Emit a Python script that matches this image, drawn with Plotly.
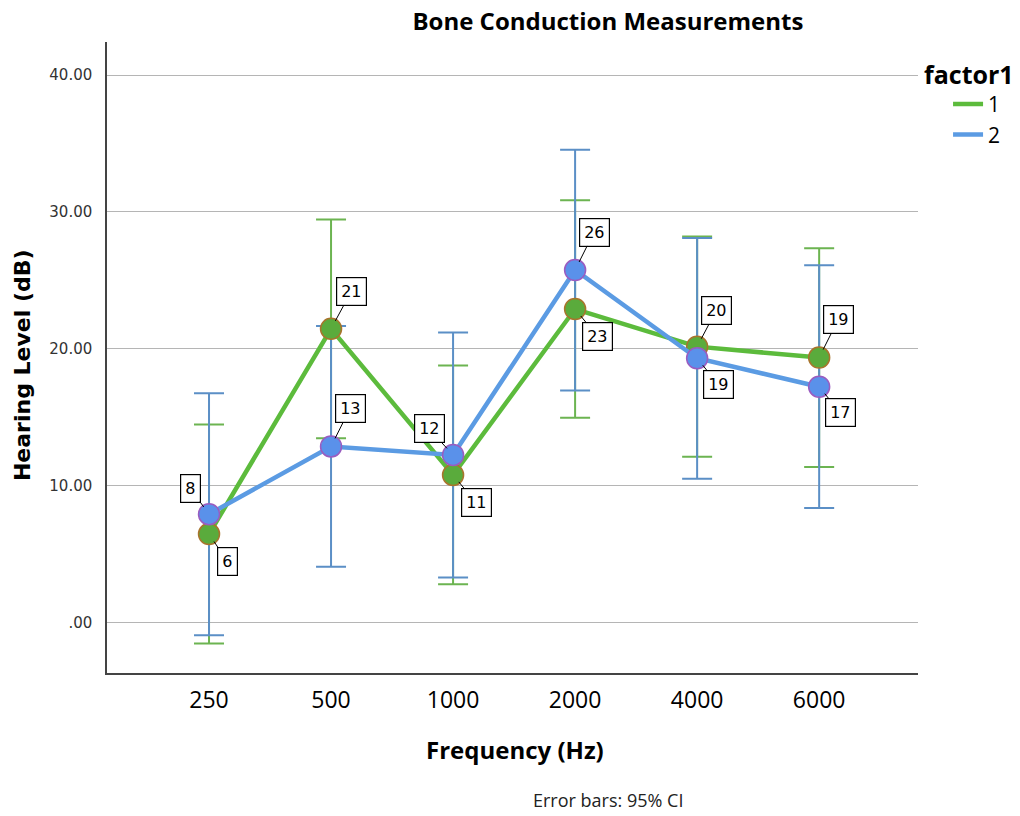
import plotly.graph_objects as go

# Frequencies tested (categorical x axis)
frequencies = ["250", "500", "1000", "2000", "4000", "6000"]

# Group means (dB HL) and 95% CI half-widths
factor1_means = [6.45, 21.45, 10.77, 22.9, 20.15, 19.35]
factor1_ci = [8.0, 8.0, 8.0, 7.95, 8.05, 8.0]
factor2_means = [7.9, 12.85, 12.23, 25.75, 19.3, 17.22]
factor2_ci = [8.85, 8.8, 8.95, 8.8, 8.8, 8.87]

y_tick_vals = [0, 10, 20, 30, 40]
y_tick_text = [".00", "10.00", "20.00", "30.00", "40.00"]

# label offsets (px) for the value boxes of each group
f1_label_dx = [18, 20, 23, 22, 19, 19]
f1_label_dy = [27, -37, 28, 27, -36, -38]
f2_label_dx = [-19, 19, -24, 19, 21, 21]
f2_label_dy = [-26, -38, -26, -38, 26, 26]

GREEN_LINE = "#5cbb3c"
GREEN_FILL = "#5aab3c"
GREEN_EDGE = "#a8742c"
GREEN_ERR = "#6cb451"
BLUE_LINE = "#5b9be3"
BLUE_FILL = "#5a91ea"
BLUE_EDGE = "#9a5cc0"
BLUE_ERR = "#5b8fc6"

fig = go.Figure()

series = [
    ("1", factor1_means, factor1_ci, GREEN_LINE, GREEN_FILL, GREEN_EDGE, GREEN_ERR),
    ("2", factor2_means, factor2_ci, BLUE_LINE, BLUE_FILL, BLUE_EDGE, BLUE_ERR),
]

# error bars
for name, means, ci, line_c, fill_c, edge_c, err_c in series:
    fig.add_trace(go.Scatter(
        x=frequencies, y=means, mode="markers",
        marker=dict(size=1, color="rgba(0,0,0,0)"),
        error_y=dict(type="data", array=ci, visible=True, color=err_c,
                     thickness=2, width=15),
        showlegend=False, hoverinfo="skip",
    ))

# connecting lines and markers
for name, means, ci, line_c, fill_c, edge_c, err_c in series:
    fig.add_trace(go.Scatter(
        x=frequencies, y=means, mode="lines+markers",
        line=dict(color=line_c, width=4.5),
        marker=dict(size=21, color=fill_c, line=dict(color=edge_c, width=1.5)),
        showlegend=False, name=name,
    ))

# legend entries (line swatches only)
for name, means, ci, line_c, fill_c, edge_c, err_c in series:
    fig.add_trace(go.Scatter(
        x=[None], y=[None], mode="lines", name=name,
        line=dict(color=line_c, width=4.5),
    ))

# value labels (category index used as x position)
annotations = []
for means, dxs, dys in [(factor1_means, f1_label_dx, f1_label_dy),
                        (factor2_means, f2_label_dx, f2_label_dy)]:
    for i, (m, dx, dy) in enumerate(zip(means, dxs, dys)):
        annotations.append(dict(
            x=i, y=m, xref="x", yref="y", text=str(int(round(m))),
            showarrow=True, arrowhead=0, arrowwidth=1, arrowcolor="black",
            standoff=9, ax=dx, ay=dy,
            bgcolor="white", bordercolor="black", borderwidth=1.2, borderpad=4,
            font=dict(family="DejaVu Sans", size=16, color="black"),
        ))

annotations += [
    dict(text="<b>Frequency (Hz)</b>", xref="paper", yref="paper",
         x=0.503, y=-0.122, showarrow=False, xanchor="center", yanchor="middle",
         font=dict(family="Open Sans", size=24, color="black")),
    dict(text="<b>Hearing Level (dB)</b>", xref="paper", yref="paper",
         x=-0.1048, y=0.488, showarrow=False, textangle=-90,
         xanchor="center", yanchor="middle",
         font=dict(family="DejaVu Sans", size=22, color="black")),
    dict(text="Error bars: 95% CI", xref="paper", yref="paper",
         x=0.618, y=-0.201, showarrow=False, xanchor="center", yanchor="middle",
         font=dict(family="Open Sans", size=18, color="#222")),
]

fig.update_layout(
    width=1020, height=816,
    margin=dict(l=107, r=102, t=42, b=143, autoexpand=False),
    paper_bgcolor="white", plot_bgcolor="white",
    title=dict(text="<b>Bone Conduction Measurements</b>", x=0.596, y=0.973,
               xref="container", yref="container", xanchor="center", yanchor="middle",
               font=dict(family="Open Sans", size=24, color="black")),
    xaxis=dict(type="category", range=[-0.836, 5.81], showgrid=False,
               showline=True, linecolor="#444", linewidth=1.5, ticks="",
               tickfont=dict(family="Open Sans", size=23, color="black"),
               ticklabelstandoff=6, zeroline=False),
    yaxis=dict(range=[-3.71, 42.42], tickvals=y_tick_vals, ticktext=y_tick_text,
               showgrid=True, gridcolor="#b5b5b5", gridwidth=1,
               showline=True, linecolor="#444", linewidth=1.5, ticks="",
               tickfont=dict(family="DejaVu Sans", size=15, color="#333"),
               ticklabelstandoff=10, zeroline=False),
    legend=dict(x=1.005, y=0.985, xanchor="left", yanchor="top",
                title=dict(text="<b>factor1</b>",
                           font=dict(family="Open Sans", size=25, color="black")),
                font=dict(family="Open Sans", size=21, color="black"),
                indentation=26, tracegroupgap=0, itemwidth=30),
    annotations=annotations,
)

fig.write_html("out.html")
